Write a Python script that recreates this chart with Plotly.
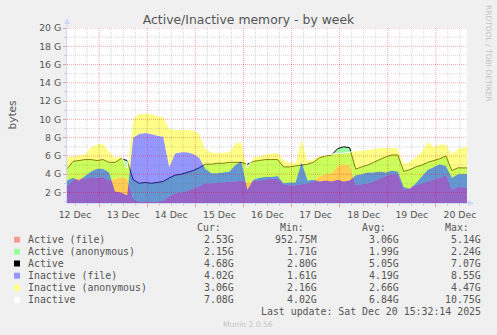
import numpy as np
import pandas as pd
import plotly.graph_objects as go

# ---------------- data (GiB), 3-hour samples from 12 Dec 08:00 ----------------
active_file = [2.7, 3.3, 3.6, 3.5, 3.7, 3.6, 3.7, 3.3, 3.5, 3.7, 3.5,
               1.3, 1.0, 1.0, 0.95, 1.0, 1.1, 1.6, 1.9, 2.0, 2.2, 2.4, 2.7,
               3.0, 3.0, 3.1, 3.1, 3.2, 3.2, 3.3, 3.1, 3.3, 3.3, 3.4, 3.5, 3.5,
               2.9, 2.8, 2.8, 2.9, 3.0, 3.2, 3.8, 4.0, 4.1, 4.9, 5.1, 5.0,
               2.8, 2.9, 3.0, 3.2, 3.5, 3.8, 4.0, 4.0,
               2.3, 2.5, 2.8, 3.0, 3.2, 3.4, 3.6, 3.9,
               2.3, 2.6, 2.6, 2.53]
active_anon = [1.9, 2.1, 1.9, 2.1, 1.9, 1.9, 1.9, 2.0, 1.8, 2.0, 2.0,
               2.1, 2.0, 2.1, 2.05, 2.1, 2.1, 2.0, 2.0, 2.0, 2.0, 2.0, 2.0,
               2.1, 2.1, 2.1, 2.1, 2.1, 2.1, 2.0, 2.0, 2.1, 2.2, 2.2, 2.1, 2.1,
               1.9, 2.0, 2.1, 2.1, 2.1, 2.1, 2.0, 2.0, 2.0, 1.9, 1.9, 1.9,
               1.75, 1.9, 2.0, 2.1, 2.1, 2.1, 2.1, 2.1,
               2.0, 2.0, 2.0, 2.0, 2.1, 2.1, 2.1, 2.1,
               2.1, 2.1, 2.1, 2.15]
inactive_file = [3.3, 3.6, 3.3, 3.8, 4.3, 4.6, 4.6, 4.2, 2.1, 2.0, 1.7,
                 8.0, 8.4, 8.5, 8.4, 8.2, 8.1, 4.8, 6.3, 6.4, 6.4, 6.2, 5.8,
                 4.6, 4.1, 4.1, 4.2, 4.3, 5.0, 5.4, 2.3, 3.4, 3.6, 3.7, 3.7, 3.8,
                 3.0, 3.1, 3.1, 5.3, 3.3, 3.4, 3.2, 3.3, 3.2, 3.4, 3.2, 3.3,
                 3.9, 4.0, 4.2, 4.2, 4.3, 4.2, 4.4, 4.3,
                 2.6, 2.4, 3.0, 3.8, 4.5, 4.8, 5.1, 4.9,
                 3.6, 4.0, 4.0, 4.02]
inactive_anon = [2.6, 2.4, 2.8, 2.4, 2.7, 2.7, 2.8, 2.3, 3.7, 4.0, 3.0,
                 2.2, 2.2, 2.2, 2.2, 2.2, 2.2, 4.2, 2.6, 2.5, 2.5, 2.6, 2.7,
                 2.2, 2.3, 2.3, 2.2, 2.2, 2.4, 2.2, 2.4, 2.5, 2.4, 2.5, 2.6, 2.6,
                 2.6, 2.2, 2.2, 2.7, 2.2, 2.3, 2.8, 2.8, 3.0, 2.9, 3.1, 3.1,
                 2.7, 2.6, 2.5, 2.6, 2.6, 2.7, 2.5, 2.6,
                 2.6, 3.0, 2.9, 2.7, 3.1, 2.2, 2.2, 2.4,
                 2.6, 2.8, 3.0, 3.06]

legend_names = ["Active (file)", "Active (anonymous)", "Active",
                "Inactive (file)", "Inactive (anonymous)", "Inactive"]
legend_cur = ["2.53G", "2.15G", "4.68G", "4.02G", "3.06G", "7.08G"]
legend_min = ["952.75M", "1.71G", "2.80G", "1.61G", "2.16G", "4.02G"]
legend_avg = ["3.06G", "1.99G", "5.05G", "4.19G", "2.66G", "6.84G"]
legend_max = ["5.14G", "2.24G", "7.07G", "8.55G", "4.47G", "10.75G"]
legend_swatch = ["#f99a94", "#9aff9f", "#000000", "#9696ff", "#ffff88", "#ffffff"]

x_start, x_end = "2025-12-12 08:00", "2025-12-20 15:32"
y_low, y_high = 0.85, 20

times = pd.date_range(x_start, periods=len(active_file), freq="3h")

af = np.array(active_file)
aa = np.array(active_anon)
inf = np.array(inactive_file)
ina = np.array(inactive_anon)
act = af + aa
inact = inf + ina

xs = list(times)
xband = xs + xs[::-1]

fig = go.Figure()
fig.add_trace(go.Scatter(x=times, y=af, mode="lines", line=dict(width=0),
                         fill="tozeroy", fillcolor="rgb(255,155,145)", hoverinfo="skip"))
fig.add_trace(go.Scatter(x=xband, y=list(act) + list(af[::-1]), mode="lines",
                         line=dict(width=0), fill="toself",
                         fillcolor="rgb(155,255,165)", hoverinfo="skip"))
fig.add_trace(go.Scatter(x=times, y=act, mode="lines", line=dict(color="black", width=1),
                         hoverinfo="skip"))
fig.add_trace(go.Scatter(x=times, y=inf, mode="lines", line=dict(width=0),
                         fill="tozeroy", fillcolor="rgba(45,45,255,0.5)", hoverinfo="skip"))
fig.add_trace(go.Scatter(x=xband, y=list(inact) + list(inf[::-1]), mode="lines",
                         line=dict(width=0), fill="toself",
                         fillcolor="rgba(255,255,17,0.5)", hoverinfo="skip"))
fig.add_trace(go.Scatter(x=times, y=inact, mode="lines", line=dict(color="white", width=1),
                         hoverinfo="skip"))

W, H = 497, 335
L, R, T, B = 67, 467, 28, 203


def px(x):
    return (x - L) / (R - L)


def py(y):
    return (B - y) / (B - T)


MAJ = "rgba(225,0,0,0.34)"
MIN = "rgba(120,120,120,0.28)"
AXC = "#cfd6f8"
TXT = "#555555"
FONT = "DejaVu Sans"
MONO = "DejaVu Sans Mono"

fig.update_layout(
    width=W, height=H,
    margin=dict(l=L, r=W - R, t=T, b=H - B, pad=0),
    paper_bgcolor="#f0f0f0", plot_bgcolor="#ffffff",
    showlegend=False,
    title=dict(text="Active/Inactive memory - by week", x=0.5, xref="container",
               xanchor="center", y=1 - 19.5 / H, yref="container", yanchor="middle",
               font=dict(family=FONT, size=12.4, color=TXT)),
    xaxis=dict(type="date", range=[x_start, x_end],
               tickmode="linear", tick0="2025-12-12", dtick=86400000,
               tickformat="%d %b", ticklabelmode="period",
               showgrid=False,
               ticks="outside", ticklen=3, tickcolor=MAJ,
               tickfont=dict(family=FONT, size=9.3, color=TXT),
               showline=True, linecolor=AXC, linewidth=1, zeroline=False,
               minor=dict(dtick=6 * 3600000, tick0="2025-12-12", showgrid=False,
                          ticks="outside", ticklen=2, tickcolor=MIN)),
    yaxis=dict(range=[y_low, y_high], tickmode="linear", tick0=0, dtick=2, ticksuffix=" G",
               showgrid=False,
               ticks="outside", ticklen=3, tickcolor=MAJ,
               tickfont=dict(family=FONT, size=9.3, color=TXT),
               showline=True, linecolor=AXC, linewidth=1, zeroline=False,
               minor=dict(dtick=1, tick0=0, showgrid=False,
                          ticks="outside", ticklen=2, tickcolor=MIN)),
)

shapes = []
# grid drawn above the data, as rrdtool does
for gv in range(1, int(y_high) + 1):
    if gv <= y_low:
        continue
    shapes.append(dict(type="line", xref="paper", yref="y", x0=0, x1=1, y0=gv, y1=gv,
                       layer="above",
                       line=dict(color=MAJ if gv % 2 == 0 else MIN, width=1, dash="1px,1px")))
for gt in pd.date_range("2025-12-12 12:00", x_end, freq="6h"):
    major = gt.hour == 0
    shapes.append(dict(type="line", xref="x", yref="paper", x0=gt, x1=gt, y0=0, y1=1,
                       layer="above",
                       line=dict(color=MAJ if major else MIN, width=1, dash="1px,1px")))

# axis arrows
shapes.append(dict(type="line", xref="paper", yref="paper", x0=px(L), x1=px(L),
                   y0=py(T), y1=py(21), line=dict(color=AXC, width=1)))
shapes.append(dict(type="path", xref="paper", yref="paper",
                   path=f"M {px(L-3)} {py(24)} L {px(L+3)} {py(24)} L {px(L)} {py(18)} Z",
                   fillcolor=AXC, line=dict(width=0)))
shapes.append(dict(type="line", xref="paper", yref="paper", x0=px(R), x1=px(470),
                   y0=py(B), y1=py(B), line=dict(color=AXC, width=1)))
shapes.append(dict(type="path", xref="paper", yref="paper",
                   path=f"M {px(468)} {py(B-3)} L {px(468)} {py(B+3)} L {px(474)} {py(B)} Z",
                   fillcolor=AXC, line=dict(width=0)))

ann = []
ann.append(dict(text="bytes", x=px(11.5), y=py(115), xref="paper", yref="paper",
                showarrow=False, textangle=-90, font=dict(family=FONT, size=10.5, color=TXT),
                xanchor="center", yanchor="middle"))
ann.append(dict(text="RRDTOOL / TOBI OETIKER", x=px(489), y=py(53), xref="paper",
                yref="paper", showarrow=False, textangle=90,
                font=dict(family=FONT, size=7.5, color="#c4c4c4"),
                xanchor="center", yanchor="middle"))

col_right = [236, 319, 401, 483]
head_right = [222.5, 306, 388, 471]
for hdr, xr in zip(["Cur:", "Min:", "Avg:", "Max:"], head_right):
    ann.append(dict(text=hdr, x=px(xr), y=py(227.7), xref="paper", yref="paper",
                    showarrow=False, xanchor="right", yanchor="middle",
                    font=dict(family=MONO, size=9.9, color=TXT)))

row_y = [239.7, 251.7, 263.5, 275.7, 287.7, 299.7]
for k, name in enumerate(legend_names):
    yy = row_y[k]
    shapes.append(dict(type="rect", xref="paper", yref="paper",
                       x0=px(14), x1=px(20), y0=py(yy + 3), y1=py(yy - 3),
                       fillcolor=legend_swatch[k], line=dict(width=0)))
    ann.append(dict(text=name.replace(" ", "&nbsp;"), x=px(25.5), y=py(yy), xref="paper",
                    yref="paper", showarrow=False, xanchor="left", yanchor="middle",
                    font=dict(family=MONO, size=9.9, color=TXT)))
    for vals, xr in zip([legend_cur, legend_min, legend_avg, legend_max], col_right):
        ann.append(dict(text=vals[k], x=px(xr), y=py(yy), xref="paper", yref="paper",
                        showarrow=False, xanchor="right", yanchor="middle",
                        font=dict(family=MONO, size=9.9, color=TXT)))

ann.append(dict(text="Last&nbsp;update:&nbsp;Sat&nbsp;Dec&nbsp;20&nbsp;15:32:14&nbsp;2025",
                x=px(483), y=py(311.3), xref="paper", yref="paper", showarrow=False,
                xanchor="right", yanchor="middle", font=dict(family=MONO, size=9.9, color=TXT)))
ann.append(dict(text="Munin 2.0.56", x=px(248), y=py(324), xref="paper", yref="paper",
                showarrow=False, xanchor="center", yanchor="middle",
                font=dict(family=FONT, size=7.6, color="#c4c4c4")))

fig.update_layout(shapes=shapes, annotations=ann)
fig.write_html("out.html")
